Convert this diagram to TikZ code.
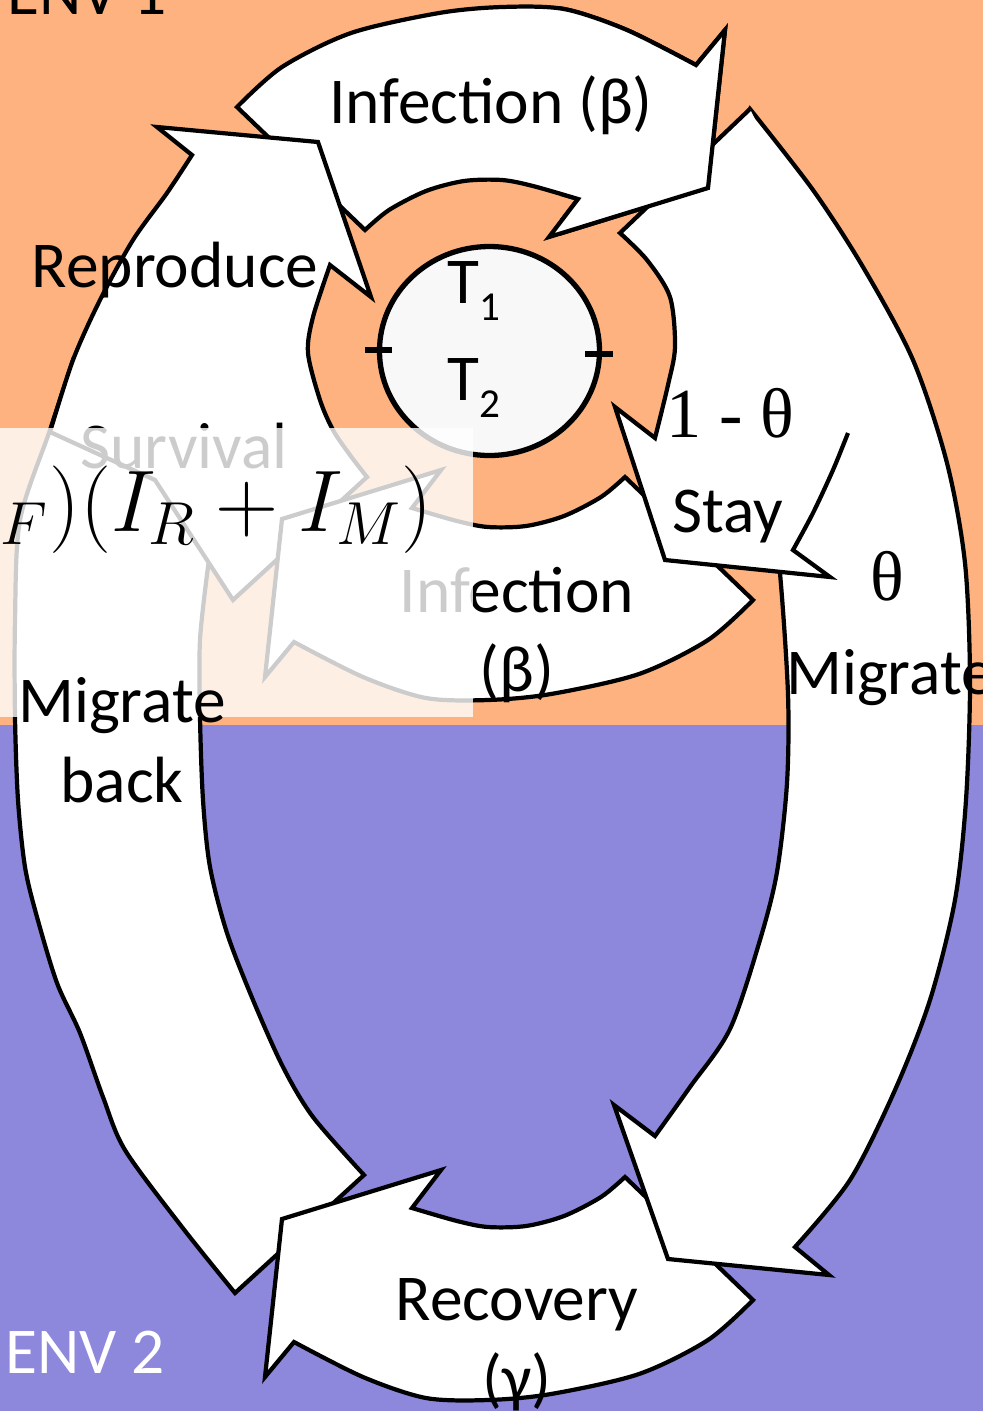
\documentclass[tikz,border=0pt]{standalone}
\usepackage{fontspec}
\newfontfamily\calibri{Carlito}
\newfontfamily\timesfont{Liberation Serif}
\usetikzlibrary{positioning}

\definecolor{envone}{RGB}{254,178,128}
\definecolor{envtwo}{RGB}{142,136,221}
\definecolor{hostfill}{RGB}{248,248,248}

% one infection arrow, the other two are turned copies of it
\newcommand{\infpath}{(237,107) -- plot[smooth] coordinates {(237,107) (282,67) (351,33) (439,13) (502,7) (564,9) (627,30) (696,65)} -- (725,30) -- (708,188) -- (549,237) -- plot[smooth] coordinates {(578,199) (533,186) (502,180) (464,181) (426,191) (389,210) (365,230)} -- cycle}
\newcommand{\tsub}[1]{\raisebox{-0.27em}{\fontsize{11.7}{12}\selectfont #1}}

\begin{document}
\begin{tikzpicture}[
    x=0.01cm, y=-0.01cm,
    blockarrow/.style={fill=white, draw=black, line width=1.2pt},
    rim/.style={draw=black, line width=1.2pt},
    lbl/.style={font=\calibri\fontsize{18.6}{22}\selectfont, inner sep=0pt},
    thetalbl/.style={font=\timesfont\fontsize{20}{24}\selectfont, inner sep=0pt}
]

% Environments
\useasboundingbox (0,0) rectangle (983,1411);
\fill[envone] (0,0) rectangle (983,725);
\fill[envtwo] (0,725) rectangle (983,1411);

% Arrows
\draw[blockarrow] \infpath;
\draw[blockarrow] (364,1175) -- (235,1293) -- plot[smooth] coordinates {(235,1293) (182,1227) (125,1150) (103,1097) (80,1033) (57,983) (37,917) (25,867) (18,800) (15,717) (15,620) (20,520) (50,430) (73,360)} -- (150,420) -- (215,520) -- plot[smooth] coordinates {(208,567) (200,640) (200,717) (203,800) (210,867) (227,933) (253,1000) (283,1067) (313,1117) (364,1175)} -- cycle;
\begin{scope}[rotate around={180:(495,703.5)}]
  \draw[blockarrow] \infpath;
\end{scope}
\draw[blockarrow] (233,600) -- (155,480) -- (50,432) -- plot[smooth] coordinates {(50,432) (73,360) (100,300) (133,240) (167,193) (192,155)} -- (157,127) -- (318,142) -- (371,297) -- (330,265) -- plot[smooth] coordinates {(330,265) (313,317) (308,353) (320,400) (333,430) (350,455) (367,477)} -- cycle;
\begin{scope}[rotate around={180:(495,353.5)}]
  \draw[blockarrow] \infpath;
\end{scope}
\draw[blockarrow] (750,109) -- plot[smooth] coordinates {(750,109) (813,190) (863,267) (913,360) (947,463) (965,563) (970,680) (966,800) (955,900) (930,1000) (895,1090) (850,1180) (795,1247)} -- (829,1275) -- (668,1259) -- (614,1105) -- (655,1136) -- plot[smooth] coordinates {(655,1136) (690,1087) (730,1029) (760,940) (777,872) (787,783) (788,694) (780,573) (768,470) (745,370) (715,270) (700,200)} -- cycle;
\fill[white] (750,109) .. controls (795,200) and (838,330) .. (848,433) -- plot[smooth] coordinates {(848,433) (833,470) (813,513) (793,550)} -- (830,577) -- (665,560) -- (615,407) -- (655,438) -- plot[smooth] coordinates {(655,438) (668,385) (675,347) (670,297) (647,260) (620,233)} -- cycle;
\draw[rim] (848,433) -- plot[smooth] coordinates {(848,433) (833,470) (813,513) (793,550)} -- (830,577) -- (665,560) -- (615,407) -- (655,438) -- plot[smooth] coordinates {(655,438) (668,385) (675,347) (670,297) (647,260) (620,233)} -- (750,109);
\begin{scope}
  \clip (560,0) rectangle (760,245);
  \draw[blockarrow] \infpath;
\end{scope}

% Host
\draw[line width=1.5pt, fill=hostfill] (489.5,351) ellipse [x radius=110, y radius=104.5];
\draw[line width=1.5pt] (365,350) -- (392,350) (585,354) -- (613,354);

% Labels
\node[lbl, anchor=base west] (envonelbl) at (7,14) {ENV 1};
\node[lbl, anchor=base west, text=white] (envtwolbl) at (5,1373) {ENV 2};
\node[lbl, anchor=base] (inftop) at (491,123) {Infection (β)};
\node[lbl, anchor=base] (repro) at (175,287) {Reproduce};
\node[lbl, anchor=base west] (tone) at (447,303) {T\tsub{1}};
\node[lbl, anchor=base west] (ttwo) at (447,400) {T\tsub{2}};
\node[thetalbl, anchor=base] (staytheta) at (730,437) {1 - θ};
\node[lbl, anchor=base] (stay) at (728,532) {Stay};
\node[thetalbl, anchor=base] (migtheta) at (887,600) {θ};
\node[lbl, anchor=base] (migrate) at (890,694) {Migrate};
\node[lbl, anchor=base] (infmid) at (517,612) {Infection};
\node[lbl, anchor=base] (infmidrate) at (517,691) {(β)};
\node[lbl, anchor=base] (recov) at (517,1320) {Recovery};
\node[lbl, anchor=base] (recovrate) at (517,1400) {(γ)};
\node[lbl, anchor=base] (surv) at (184,468) {Survival};

% Veil over the survival arrow
\fill[white, opacity=0.8] (0,428) rectangle (473,717);
\node[anchor=base west, inner sep=0pt, font=\fontsize{25.3}{30}\selectfont] (survrate) at (0,531) {${}_F)(I_R + I_M)$};
\node[lbl, anchor=base] (migback) at (122,722) {Migrate};
\node[lbl, anchor=base] (migbackb) at (122,802) {back};

\end{tikzpicture}
\end{document}
